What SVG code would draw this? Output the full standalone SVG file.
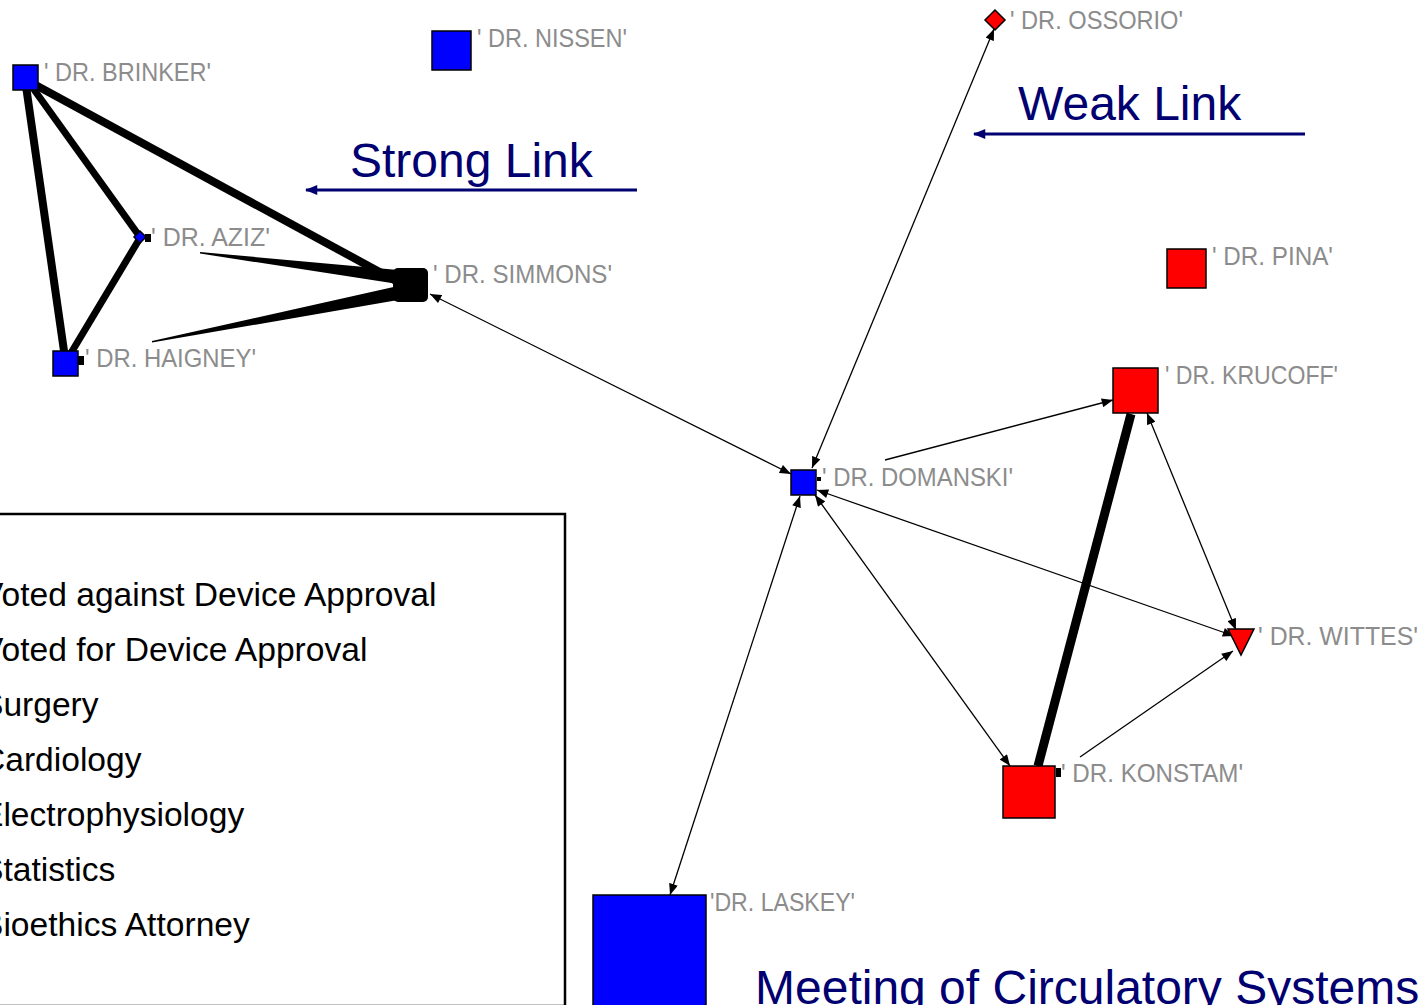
<svg xmlns="http://www.w3.org/2000/svg" width="1420" height="1005" viewBox="0 0 1420 1005">
<defs>
<style>
.lbl{font-family:"Liberation Sans",Arial,sans-serif;font-size:25px;fill:#8c8c8c;}
.title{font-family:"Liberation Sans",Arial,sans-serif;font-size:48px;fill:#000070;}
.leg{font-family:"Liberation Sans",Arial,sans-serif;font-size:33.6px;fill:#000;}
.thin{stroke:#000;stroke-width:1.3;fill:none;}
.thick{stroke:#000;fill:none;stroke-linecap:butt;}
.node{stroke:#000;stroke-width:1.5;}
</style>
<marker id="ah" viewBox="0 0 10 8" refX="10" refY="4" markerWidth="12" markerHeight="9" markerUnits="userSpaceOnUse" orient="auto-start-reverse">
<path d="M0,0 L10,4 L0,8 Z" fill="#000"/>
</marker>
<marker id="nav" viewBox="0 0 10 8" refX="9" refY="4" markerWidth="13" markerHeight="10" markerUnits="userSpaceOnUse" orient="auto-start-reverse">
<path d="M0,0 L10,4 L0,8 Z" fill="#000070"/>
</marker>
</defs>
<rect width="1420" height="1005" fill="#fff"/>

<g id="connectors">
<line class="thick" x1="30" y1="82" x2="398" y2="282" stroke-width="8"/>
<line class="thick" x1="30" y1="84" x2="140" y2="237" stroke-width="7"/>
<line class="thick" x1="26" y1="86" x2="65" y2="358" stroke-width="8"/>
<line class="thick" x1="140" y1="238" x2="68" y2="358" stroke-width="7"/>
<polygon points="200,252 200,253.5 398,284 398,270" fill="#000"/>
<polygon points="152,341 152,342.5 398,300 398,286" fill="#000"/>
<line class="thin" x1="430" y1="294" x2="791" y2="474" marker-start="url(#ah)" marker-end="url(#ah)"/>
<line class="thin" x1="812" y1="468" x2="994" y2="29" marker-start="url(#ah)" marker-end="url(#ah)"/>
<line class="thin" x1="885" y1="460" x2="1113" y2="400" marker-end="url(#ah)"/>
<line class="thin" x1="817" y1="490" x2="1234" y2="636" marker-start="url(#ah)" marker-end="url(#ah)"/>
<line class="thin" x1="815" y1="495" x2="1010" y2="766" marker-start="url(#ah)" marker-end="url(#ah)"/>
<line class="thin" x1="800" y1="496" x2="670" y2="895" marker-start="url(#ah)" marker-end="url(#ah)"/>
<line class="thin" x1="1147" y1="413" x2="1236" y2="630" marker-start="url(#ah)" marker-end="url(#ah)"/>
<line class="thin" x1="1080" y1="757" x2="1233" y2="651" marker-end="url(#ah)"/>
<line class="thick" x1="1038" y1="766" x2="1131" y2="414" stroke-width="9"/>
<rect x="145" y="234" width="6" height="8" fill="#000"/>
<rect x="78" y="356" width="6" height="9" fill="#000"/>
<rect x="1056" y="768" width="5" height="9" fill="#000"/>
<rect x="817" y="477" width="4" height="4" fill="#000"/>
</g>

<g id="legend">
<rect x="-5" y="514" width="570" height="492" fill="none" stroke="#000" stroke-width="2.5"/>
<text class="leg" x="-19" y="606">Voted against Device Approval</text>
<text class="leg" x="-19" y="661">Voted for Device Approval</text>
<text class="leg" x="-19" y="716">Surgery</text>
<text class="leg" x="-19" y="771">Cardiology</text>
<text class="leg" x="-19" y="826">Electrophysiology</text>
<text class="leg" x="-19" y="881">Statistics</text>
<text class="leg" x="-19" y="936">Bioethics Attorney</text>
</g>

<g id="strong-link">
<text class="title" x="350" y="177">Strong Link</text>
<line x1="306" y1="190" x2="637" y2="190" stroke="#000070" stroke-width="3" marker-start="url(#nav)"/>
</g>
<g id="weak-link">
<text class="title" x="1018" y="120">Weak Link</text>
<line x1="974" y1="134" x2="1305" y2="134" stroke="#000070" stroke-width="3" marker-start="url(#nav)"/>
</g>
<g id="caption">
<text class="title" x="755" y="1004">Meeting of Circulatory Systems</text>
</g>

<g id="brinker"><rect class="node" x="13" y="65" width="25" height="25" fill="#0000ff"/><text class="lbl" x="44" y="81" textLength="167" lengthAdjust="spacingAndGlyphs">' DR. BRINKER'</text></g>
<g id="nissen"><rect class="node" x="432" y="31" width="39" height="39" fill="#0000ff"/><text class="lbl" x="477" y="47" textLength="150" lengthAdjust="spacingAndGlyphs">' DR. NISSEN'</text></g>
<g id="ossorio"><polygon class="node" points="995,10 1005,20 995,30 985,20" fill="#ff0000"/><text class="lbl" x="1010" y="29" textLength="173" lengthAdjust="spacingAndGlyphs">' DR. OSSORIO'</text></g>
<g id="aziz"><polygon class="node" points="140,231 146,237 140,243 134,237" fill="#0000ff" stroke-width="1"/><text class="lbl" x="151" y="246" textLength="119" lengthAdjust="spacingAndGlyphs">' DR. AZIZ'</text></g>
<g id="simmons"><rect x="393" y="268" width="35" height="34" rx="5" fill="#000"/><text class="lbl" x="433" y="283" textLength="179" lengthAdjust="spacingAndGlyphs">' DR. SIMMONS'</text></g>
<g id="haigney"><rect class="node" x="53" y="351" width="25" height="25" fill="#0000ff"/><text class="lbl" x="85" y="367" textLength="171" lengthAdjust="spacingAndGlyphs">' DR. HAIGNEY'</text></g>
<g id="pina"><rect class="node" x="1167" y="249" width="39" height="39" fill="#ff0000"/><text class="lbl" x="1212" y="265" textLength="121" lengthAdjust="spacingAndGlyphs">' DR. PINA'</text></g>
<g id="krucoff"><rect class="node" x="1113" y="368" width="45" height="45" fill="#ff0000"/><text class="lbl" x="1165" y="384" textLength="173" lengthAdjust="spacingAndGlyphs">' DR. KRUCOFF'</text></g>
<g id="domanski"><rect class="node" x="791" y="470" width="25" height="25" fill="#0000ff"/><text class="lbl" x="822" y="486" textLength="191" lengthAdjust="spacingAndGlyphs">' DR. DOMANSKI'</text></g>
<g id="wittes"><polygon class="node" points="1228,629 1254,629 1241,655" fill="#ff0000"/><text class="lbl" x="1258" y="645" textLength="160" lengthAdjust="spacingAndGlyphs">' DR. WITTES'</text></g>
<g id="konstam"><rect class="node" x="1003" y="766" width="52" height="52" fill="#ff0000"/><text class="lbl" x="1061" y="782" textLength="182" lengthAdjust="spacingAndGlyphs">' DR. KONSTAM'</text></g>
<g id="laskey"><rect class="node" x="593" y="895" width="113" height="120" fill="#0000ff"/><text class="lbl" x="710" y="911" textLength="145" lengthAdjust="spacingAndGlyphs">'DR. LASKEY'</text></g>
</svg>
